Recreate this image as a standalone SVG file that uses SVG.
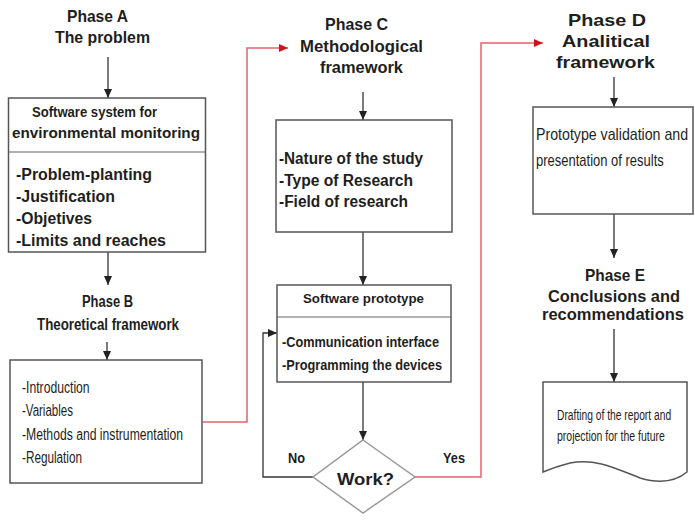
<svg xmlns="http://www.w3.org/2000/svg" width="695" height="526" viewBox="0 0 695 526">
<defs>
<marker id="ah" markerUnits="userSpaceOnUse" markerWidth="10" markerHeight="10" refX="9" refY="4" orient="auto">
<path d="M0,0 L9,4 L0,8 Z" fill="#222"/>
</marker>
<marker id="ahr" markerUnits="userSpaceOnUse" markerWidth="10" markerHeight="10" refX="9" refY="4" orient="auto">
<path d="M0,0 L9,4 L0,8 Z" fill="#d0121e"/>
</marker>
</defs>
<style>
text { font-family: "Liberation Sans", Arial, sans-serif; fill: #1e1e1e; }
.t { font-weight: bold; font-size: 17px; }
.b { font-weight: bold; font-size: 16px; }
.h { font-weight: bold; font-size: 15px; }
.p { font-weight: bold; font-size: 12px; }
.n { font-size: 16px; }
.s { font-size: 15px; }
.box { fill: #fff; stroke: #555; stroke-width: 1.5; }
.dv { stroke: #666; stroke-width: 1.2; }
.ln { fill: none; stroke: #333; stroke-width: 1.3; marker-end: url(#ah); }
.red { fill: none; stroke: #e5606a; stroke-width: 1.5; }
.dia { fill: #fff; stroke: #999; stroke-width: 1.5; }
</style>
<rect width="695" height="526" fill="#fff"/>

<g id="connectors">
<path class="ln" d="M108,57 V98"/>
<path class="ln" d="M108,252 V285"/>
<path class="ln" d="M107,342 V360"/>
<path class="red" d="M203,422 H247 V48 H288" marker-end="url(#ahr)"/>
<path class="ln" d="M363,92 V120"/>
<path class="ln" d="M363,232 V285"/>
<path class="ln" d="M363,382 V440"/>
<path class="ln" d="M313,477 H263 V333 H277"/>
<path class="red" d="M415,477 H481 V43 H543" marker-end="url(#ahr)"/>
<path class="ln" d="M614,77 V107"/>
<path class="ln" d="M614,214 V258"/>
<path class="ln" d="M614,329 V382"/>
</g>

<g id="phaseA">
<text class="t" x="67" y="22" textLength="61" lengthAdjust="spacingAndGlyphs">Phase A</text>
<text class="t" x="55" y="43" textLength="95" lengthAdjust="spacingAndGlyphs">The problem</text>
</g>

<g id="boxA">
<rect class="box" x="8.5" y="98" width="197" height="154"/>
<line class="dv" x1="8.5" y1="152" x2="205.5" y2="152"/>
<text class="h" x="32" y="117" textLength="125" lengthAdjust="spacingAndGlyphs">Software system for</text>
<text class="h" x="12" y="138" textLength="188" lengthAdjust="spacingAndGlyphs">environmental monitoring</text>
<text class="b" x="16" y="180" textLength="136" lengthAdjust="spacingAndGlyphs">-Problem-planting</text>
<text class="b" x="16" y="202" textLength="99" lengthAdjust="spacingAndGlyphs">-Justification</text>
<text class="b" x="16" y="224" textLength="76" lengthAdjust="spacingAndGlyphs">-Objetives</text>
<text class="b" x="16" y="246" textLength="150" lengthAdjust="spacingAndGlyphs">-Limits and reaches</text>
</g>

<g id="phaseB">
<text class="b" x="82" y="307" textLength="51" lengthAdjust="spacingAndGlyphs">Phase B</text>
<text class="b" x="37" y="330" textLength="142" lengthAdjust="spacingAndGlyphs">Theoretical framework</text>
</g>

<g id="boxB">
<rect class="box" x="10" y="360" width="192" height="123"/>
<g transform="translate(22,0) scale(0.76,1)">
<text class="n" x="0" y="393" textLength="89" lengthAdjust="spacingAndGlyphs">-Introduction</text>
<text class="n" x="0" y="416" textLength="67" lengthAdjust="spacingAndGlyphs">-Variables</text>
<text class="n" x="0" y="440" textLength="212" lengthAdjust="spacingAndGlyphs">-Methods and instrumentation</text>
<text class="n" x="0" y="463" textLength="79" lengthAdjust="spacingAndGlyphs">-Regulation</text>
</g>
</g>

<g id="phaseC">
<text class="t" x="325" y="30" textLength="63" lengthAdjust="spacingAndGlyphs">Phase C</text>
<text class="t" x="300" y="52" textLength="123" lengthAdjust="spacingAndGlyphs">Methodological</text>
<text class="t" x="320" y="73" textLength="83" lengthAdjust="spacingAndGlyphs">framework</text>
</g>

<g id="boxC">
<rect class="box" x="276" y="120" width="176" height="112"/>
<text class="b" x="279" y="164" textLength="144" lengthAdjust="spacingAndGlyphs">-Nature of the study</text>
<text class="b" x="279" y="186" textLength="134" lengthAdjust="spacingAndGlyphs">-Type of Research</text>
<text class="b" x="279" y="207" textLength="129" lengthAdjust="spacingAndGlyphs">-Field of research</text>
</g>

<g id="prototype">
<rect class="box" x="277" y="285" width="174" height="97"/>
<line class="dv" x1="277" y1="317" x2="451" y2="317"/>
<text class="p" x="303" y="303" textLength="121" lengthAdjust="spacingAndGlyphs">Software prototype</text>
<text class="h" x="282" y="347" textLength="157" lengthAdjust="spacingAndGlyphs">-Communication interface</text>
<text class="h" x="282" y="370" textLength="160" lengthAdjust="spacingAndGlyphs">-Programming the devices</text>
</g>

<g id="decision">
<polygon class="dia" points="363,440 415,477 363,513 313,477"/>
<text class="t" x="337" y="485" textLength="57" lengthAdjust="spacingAndGlyphs">Work?</text>
<text class="h" x="288" y="463" textLength="17" lengthAdjust="spacingAndGlyphs">No</text>
<text class="h" x="443" y="463" textLength="22" lengthAdjust="spacingAndGlyphs">Yes</text>
</g>

<g id="phaseD">
<text class="t" x="568" y="26" textLength="78" lengthAdjust="spacingAndGlyphs">Phase D</text>
<text class="t" x="562" y="47" textLength="88" lengthAdjust="spacingAndGlyphs">Analitical</text>
<text class="t" x="556" y="68" textLength="99" lengthAdjust="spacingAndGlyphs">framework</text>
</g>

<g id="boxD">
<rect class="box" x="533" y="107" width="160" height="107"/>
<g transform="translate(536,0) scale(0.9,1)">
<text class="n" x="0" y="140" textLength="169" lengthAdjust="spacingAndGlyphs">Prototype validation and</text>
<text class="n" x="0" y="166" textLength="142" lengthAdjust="spacingAndGlyphs">presentation of results</text>
</g>
</g>

<g id="phaseE">
<text class="t" x="585" y="281" textLength="60" lengthAdjust="spacingAndGlyphs">Phase E</text>
<text class="t" x="548" y="302" textLength="132" lengthAdjust="spacingAndGlyphs">Conclusions and</text>
<text class="t" x="542" y="320" textLength="142" lengthAdjust="spacingAndGlyphs">recommendations</text>
</g>

<g id="document">
<path class="box" d="M543,382 H687 V472 C675,482 660,484 640,478 C615,468 595,458 570,463 C558,466 550,469 543,472 Z"/>
<g transform="translate(557,0) scale(0.7,1)">
<text class="s" x="0" y="420" textLength="163" lengthAdjust="spacingAndGlyphs">Drafting of the report and</text>
<text class="s" x="0" y="441" textLength="154" lengthAdjust="spacingAndGlyphs">projection for the future</text>
</g>
</g>
</svg>
